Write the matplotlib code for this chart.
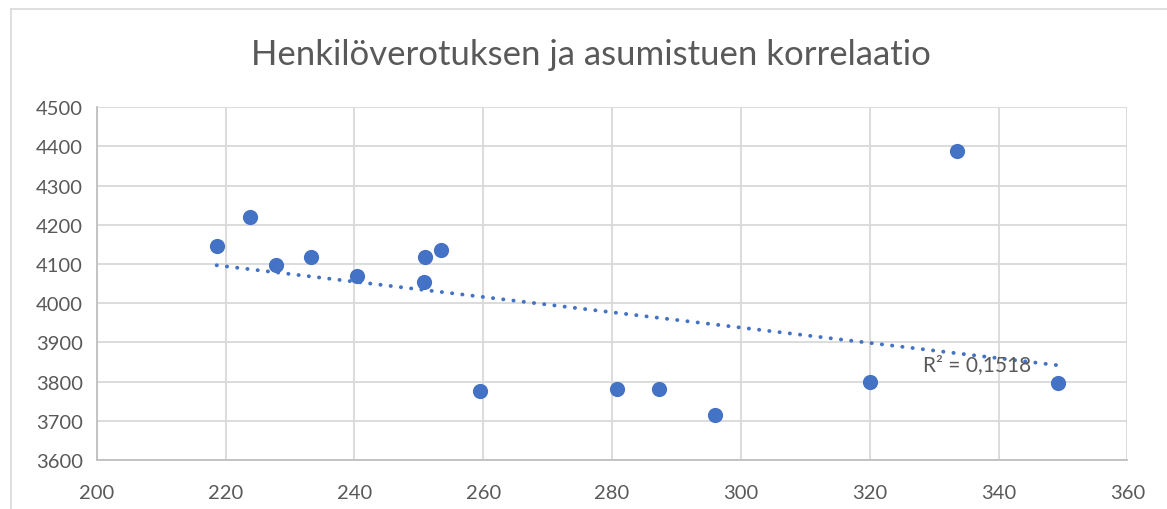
from matplotlib import pyplot as plt
import numpy as np

# henkiloverotus (x) vs asumistuki (y)
x = [218.6, 223.8, 227.8, 233.2, 240.4, 250.9, 250.8, 253.4, 259.5,
     280.8, 287.3, 296.0, 320.0, 333.5, 349.2]
y = [4145, 4220, 4097, 4117, 4070, 4118, 4055, 4135, 3775,
     3782, 3782, 3714, 3798, 4388, 3797]
x_ticks = [200, 220, 240, 260, 280, 300, 320, 340, 360]
y_ticks = [3600, 3700, 3800, 3900, 4000, 4100, 4200, 4300, 4400, 4500]
title = "Henkilöverotuksen ja asumistuen korrelaatio"
r2_label = "R² = 0,1518"

plt.rcParams['font.family'] = ['Lato', 'DejaVu Sans']
blue = "#4472C4"
gray = "#595959"

fig = plt.figure(figsize=(11.67, 5.10), dpi=100)
ax = fig.add_axes([0.083, 0.096, 0.883, 0.692])

ax.scatter(x, y, s=120, color=blue, zorder=3, linewidths=0)

# linear trendline
k, b = np.polyfit(x, y, 1)
xt = np.array([min(x), max(x)])
ax.plot(xt, k * xt + b, color=blue, linestyle=(0, (0.05, 2.6)), linewidth=2.8,
        dash_capstyle='round', zorder=2)
ax.text(328.3, 3845, r2_label, color=gray, fontsize=15, va='center', ha='left')

ax.set_xlim(200, 360)
ax.set_ylim(3600, 4500)
ax.set_xticks(x_ticks)
ax.set_yticks(y_ticks)
ax.grid(True, color="#D9D9D9", linewidth=1.3)
ax.set_axisbelow(True)
for s in ['top', 'right']:
    ax.spines[s].set_visible(False)
for s in ['left', 'bottom']:
    ax.spines[s].set_color("#BFBFBF")
    ax.spines[s].set_linewidth(1.3)
ax.tick_params(length=0, labelsize=14.5, labelcolor=gray)
ax.tick_params(axis='x', pad=17)
ax.tick_params(axis='y', pad=10)

fig.text(0.506, 0.892, title, ha='center', va='center', fontsize=25, color=gray)

# outer chart frame (cropped at top/left)
fig.add_artist(plt.Line2D([0.009, 0.009], [0, 0.98], color="#D9D9D9", linewidth=1.2))
fig.add_artist(plt.Line2D([0.009, 1], [0.98, 0.98], color="#D9D9D9", linewidth=1.2))

fig.savefig("out.png", dpi=100)
